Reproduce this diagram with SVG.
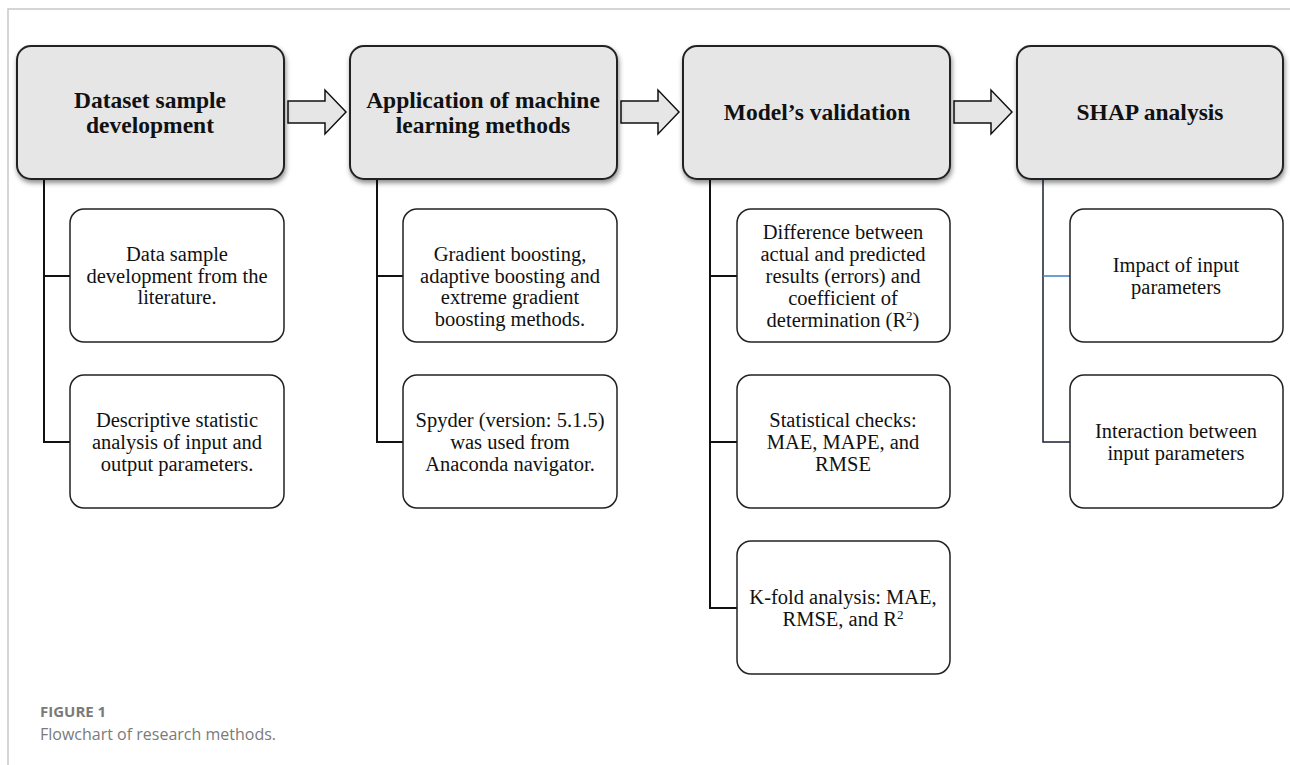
<svg xmlns="http://www.w3.org/2000/svg" width="1290" height="765" viewBox="0 0 1290 765">
<defs>
<filter id="sh" x="-10%" y="-10%" width="125%" height="130%">
<feDropShadow dx="1" dy="3" stdDeviation="2.5" flood-color="#000" flood-opacity="0.45"/>
</filter>
<polygon id="arr" points="0,-11 37,-11 37,-22 58,0 37,22 37,11 0,11"/>
</defs>
<style>
.frame{stroke:#c8c8c8;stroke-width:1.5;fill:none}
.main{fill:#e6e6e6;stroke:#222;stroke-width:2}
.sub{fill:#fff;stroke:#222;stroke-width:1.5}
.t{font-family:"Liberation Serif","Times New Roman",serif;font-weight:bold;font-size:23.5px;fill:#111;text-anchor:middle}
.s{font-family:"Liberation Serif","Times New Roman",serif;font-size:20.5px;fill:#111;text-anchor:middle}
.ln{stroke:#111;stroke-width:2;fill:none}
.ar{fill:#e6e6e6;stroke:#111;stroke-width:1.5}
.cap1{font-family:"Open Sans",sans-serif;font-weight:bold;font-size:15px;fill:#7a7a7a}
.cap2{font-family:"Open Sans",sans-serif;font-size:16px;fill:#7a7a7a}
</style>
<rect width="1290" height="765" fill="#fff"/>
<path class="frame" d="M8,765 V9 H1290"/>

<g id="connectors">
<path class="ln" d="M44,180 V442 H70 M44,276 H70"/>
<path class="ln" d="M377,180 V442 H403 M377,276 H403"/>
<path class="ln" d="M710,180 V608 H737 M710,276 H737 M710,442 H737"/>
<path class="ln" d="M1043,180 V442 H1070" style="stroke:#1a2230;stroke-width:1.5"/>
<path d="M1043,276 H1070" style="stroke:#3f7fbf;stroke-width:1.5"/>
<use href="#arr" class="ar" transform="translate(288,112)"/>
<use href="#arr" class="ar" transform="translate(621,112)"/>
<use href="#arr" class="ar" transform="translate(954,112)"/>
</g>

<g id="n1">
<rect class="main" filter="url(#sh)" x="17" y="46" width="267" height="133" rx="14"/>
<text class="t" x="150" y="108">Dataset sample</text>
<text class="t" x="150" y="133">development</text>
</g>
<g id="n2">
<rect class="main" filter="url(#sh)" x="350" y="46" width="267" height="133" rx="14"/>
<text class="t" x="483" y="108">Application of machine</text>
<text class="t" x="483" y="133">learning methods</text>
</g>
<g id="n3">
<rect class="main" filter="url(#sh)" x="683" y="46" width="267" height="133" rx="14"/>
<text class="t" x="817" y="120">Model’s validation</text>
</g>
<g id="n4">
<rect class="main" filter="url(#sh)" x="1017" y="46" width="266" height="133" rx="14"/>
<text class="t" x="1150" y="120">SHAP analysis</text>
</g>

<g id="n1a">
<rect class="sub" x="70" y="209" width="214" height="133" rx="14"/>
<text class="s" x="177" y="261">Data sample</text>
<text class="s" x="177" y="283">development from the</text>
<text class="s" x="177" y="304">literature.</text>
</g>
<g id="n1b">
<rect class="sub" x="70" y="375" width="214" height="133" rx="14"/>
<text class="s" x="177" y="427">Descriptive statistic</text>
<text class="s" x="177" y="449">analysis of input and</text>
<text class="s" x="177" y="471">output parameters.</text>
</g>
<g id="n2a">
<rect class="sub" x="403" y="209" width="214" height="133" rx="14"/>
<text class="s" x="510" y="261">Gradient boosting,</text>
<text class="s" x="510" y="283">adaptive boosting and</text>
<text class="s" x="510" y="304">extreme gradient</text>
<text class="s" x="510" y="326">boosting methods.</text>
</g>
<g id="n2b">
<rect class="sub" x="403" y="375" width="214" height="133" rx="14"/>
<text class="s" x="510" y="427">Spyder (version: 5.1.5)</text>
<text class="s" x="510" y="449">was used from</text>
<text class="s" x="510" y="471">Anaconda navigator.</text>
</g>
<g id="n3a">
<rect class="sub" x="737" y="209" width="213" height="133" rx="14"/>
<text class="s" x="843" y="239">Difference between</text>
<text class="s" x="843" y="261">actual and predicted</text>
<text class="s" x="843" y="283">results (errors) and</text>
<text class="s" x="843" y="305">coefficient of</text>
<text class="s" x="843" y="327">determination (R<tspan font-size="13" dy="-7">2</tspan><tspan dy="7">)</tspan></text>
</g>
<g id="n3b">
<rect class="sub" x="737" y="375" width="213" height="133" rx="14"/>
<text class="s" x="843" y="427">Statistical checks:</text>
<text class="s" x="843" y="449">MAE, MAPE, and</text>
<text class="s" x="843" y="471">RMSE</text>
</g>
<g id="n3c">
<rect class="sub" x="737" y="541" width="213" height="133" rx="14"/>
<text class="s" x="843" y="604">K-fold analysis: MAE,</text>
<text class="s" x="843" y="626">RMSE, and R<tspan font-size="13" dy="-7">2</tspan></text>
</g>
<g id="n4a">
<rect class="sub" x="1070" y="209" width="213" height="133" rx="14"/>
<text class="s" x="1176" y="272">Impact of input</text>
<text class="s" x="1176" y="294">parameters</text>
</g>
<g id="n4b">
<rect class="sub" x="1070" y="375" width="213" height="133" rx="14"/>
<text class="s" x="1176" y="438">Interaction between</text>
<text class="s" x="1176" y="460">input parameters</text>
</g>

<text class="cap1" x="40" y="717">FIGURE 1</text>
<text class="cap2" x="40" y="740">Flowchart of research methods.</text>
</svg>
